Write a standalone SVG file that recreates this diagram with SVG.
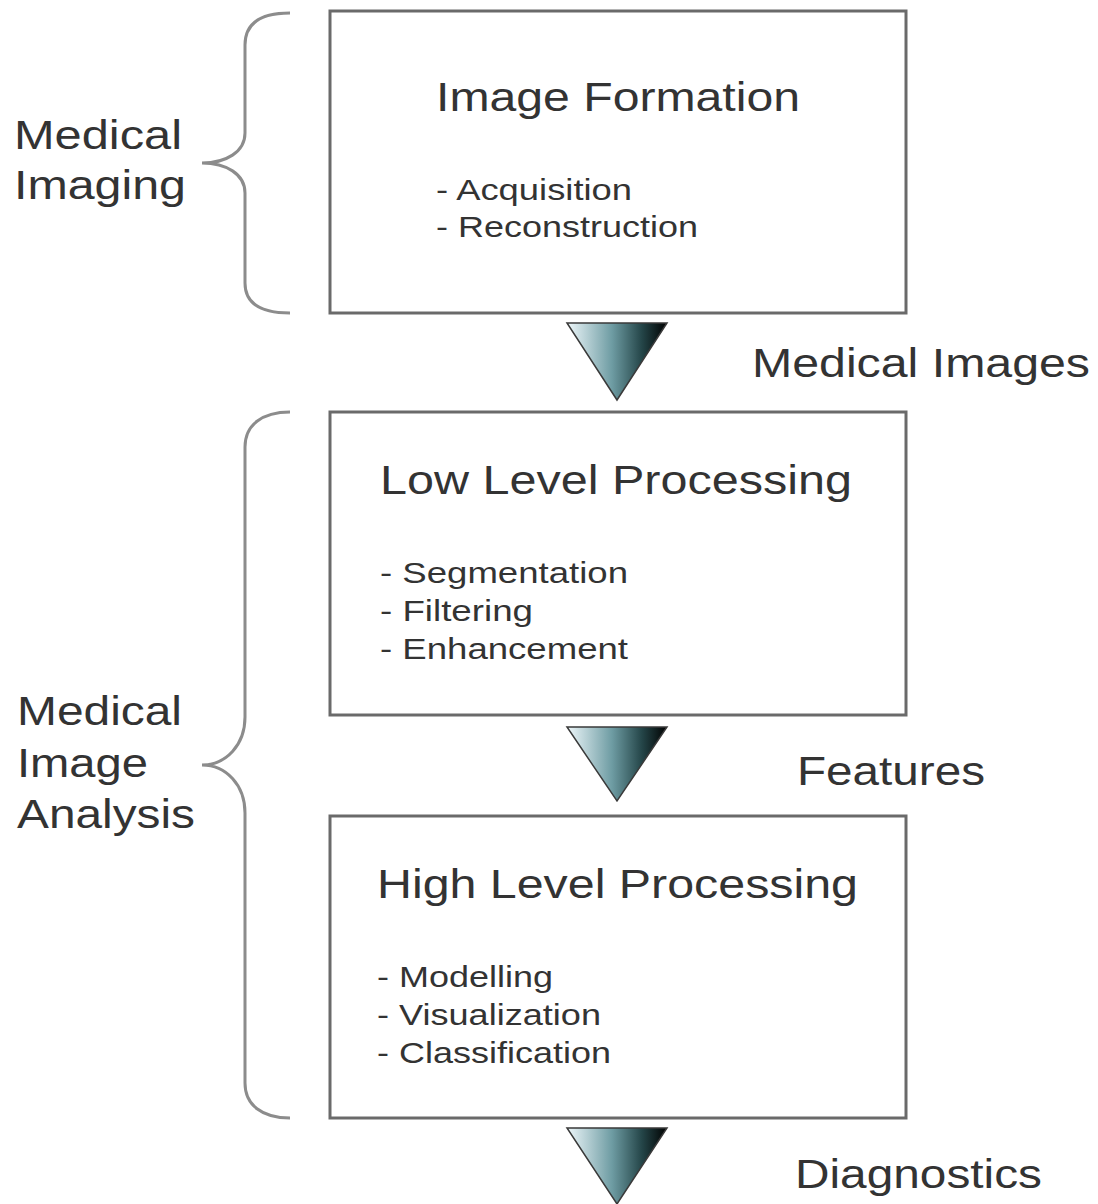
<svg xmlns="http://www.w3.org/2000/svg" width="1098" height="1204" viewBox="0 0 1098 1204">
<style>
text{font-family:"Liberation Sans",Arial,sans-serif;fill:#333333}
.lbl{font-size:40px}
.item{font-size:30px}
.box{fill:#ffffff;stroke:#6a6a6a;stroke-width:3}
.brace{fill:none;stroke:#8c8c8c;stroke-width:3}
.tri{fill:url(#g);stroke:#3a3a3a;stroke-width:1.5;stroke-linejoin:miter}
</style>
<defs>
<linearGradient id="g" x1="0" y1="0" x2="1" y2="0">
<stop offset="0" stop-color="#eef7fa"/>
<stop offset="0.45" stop-color="#6e9ca3"/>
<stop offset="0.75" stop-color="#244548"/>
<stop offset="1" stop-color="#000000"/>
</linearGradient>
</defs>
<rect width="1098" height="1204" fill="#ffffff"/>
<g id="brace-imaging">
<path class="brace" d="M 290 13 C 262 13 245 22 245 45 L 245 133 C 245 152 226 163 202 163 C 226 163 245 174 245 193 L 245 283 C 245 304 262 313 290 313"/>
<text class="lbl" x="14" y="149" textLength="168" lengthAdjust="spacingAndGlyphs">Medical</text>
<text class="lbl" x="14" y="199" textLength="172" lengthAdjust="spacingAndGlyphs">Imaging</text>
</g>
<g id="brace-analysis">
<path class="brace" d="M 290 412 C 262 412 245 425 245 447 L 245 717 C 245 745 226 765 202 765 C 226 765 245 785 245 813 L 245 1083 C 245 1105 262 1118 290 1118"/>
<text class="lbl" x="17" y="725" textLength="165" lengthAdjust="spacingAndGlyphs">Medical</text>
<text class="lbl" x="17" y="777" textLength="131" lengthAdjust="spacingAndGlyphs">Image</text>
<text class="lbl" x="17" y="828" textLength="178" lengthAdjust="spacingAndGlyphs">Analysis</text>
</g>
<g id="node-image-formation">
<rect class="box" x="330" y="11" width="576" height="302"/>
<text class="lbl" x="436" y="111" textLength="364" lengthAdjust="spacingAndGlyphs">Image Formation</text>
<text class="item" x="436" y="200" textLength="196" lengthAdjust="spacingAndGlyphs">- Acquisition</text>
<text class="item" x="436" y="237" textLength="262" lengthAdjust="spacingAndGlyphs">- Reconstruction</text>
</g>
<g id="node-low-level">
<rect class="box" x="330" y="412" width="576" height="303"/>
<text class="lbl" x="380" y="494" textLength="472" lengthAdjust="spacingAndGlyphs">Low Level Processing</text>
<text class="item" x="380" y="583" textLength="248" lengthAdjust="spacingAndGlyphs">- Segmentation</text>
<text class="item" x="380" y="621" textLength="153" lengthAdjust="spacingAndGlyphs">- Filtering</text>
<text class="item" x="380" y="659" textLength="248" lengthAdjust="spacingAndGlyphs">- Enhancement</text>
</g>
<g id="node-high-level">
<rect class="box" x="330" y="816" width="576" height="302"/>
<text class="lbl" x="377" y="898" textLength="481" lengthAdjust="spacingAndGlyphs">High Level Processing</text>
<text class="item" x="377" y="987" textLength="176" lengthAdjust="spacingAndGlyphs">- Modelling</text>
<text class="item" x="377" y="1025" textLength="224" lengthAdjust="spacingAndGlyphs">- Visualization</text>
<text class="item" x="377" y="1063" textLength="234" lengthAdjust="spacingAndGlyphs">- Classification</text>
</g>
<g id="connectors">
<polygon class="tri" points="567,323 667,323 617,400"/>
<polygon class="tri" points="567,727 667,727 617,801"/>
<polygon class="tri" points="567,1128 667,1128 617,1204"/>
<text class="lbl" x="752" y="377" textLength="338" lengthAdjust="spacingAndGlyphs">Medical Images</text>
<text class="lbl" x="797" y="785" textLength="188" lengthAdjust="spacingAndGlyphs">Features</text>
<text class="lbl" x="795" y="1188" textLength="247" lengthAdjust="spacingAndGlyphs">Diagnostics</text>
</g>
</svg>
